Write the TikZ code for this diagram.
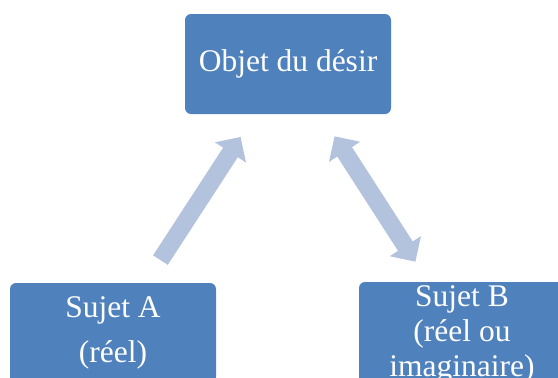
\documentclass[tikz,border=0pt]{standalone}
\usepackage{fontspec}
\setmainfont{Liberation Serif}
\usetikzlibrary{arrows.meta}
\definecolor{boxblue}{HTML}{4F81BD}
\definecolor{arrowblue}{HTML}{B3C3DE}
\tikzset{
  boxnode/.style={fill=boxblue, rounded corners=6pt, minimum width=206pt, minimum height=100pt,
    inner sep=0pt, text=white, align=center, font=\fontsize{31.5}{35}\selectfont},
  onearrow/.style={draw=arrowblue, line width=17.5pt, -{Triangle[width=36pt,length=18.5pt]}},
  twoarrow/.style={draw=arrowblue, line width=17.5pt, {Triangle[width=36pt,length=18.5pt]}-{Triangle[width=36pt,length=18.5pt]}}
}
\begin{document}
\begin{tikzpicture}[x=1pt,y=-1pt]
\useasboundingbox (0,0) rectangle (558,378);
\node[boxnode] (top) at (288,64) {Objet du désir};
\node[boxnode] (A) at (113,333) {Sujet A\\[10pt](réel)};
\node[boxnode, minimum height=104pt] (B) at (462,334) {Sujet B\\(réel ou\\imaginaire)};
\draw[onearrow, shorten <=87pt, shorten >=87pt] (A.center) -- (top.center);
\draw[twoarrow, shorten <=86pt, shorten >=86pt] (top.center) -- (B.center);
\end{tikzpicture}
\end{document}
